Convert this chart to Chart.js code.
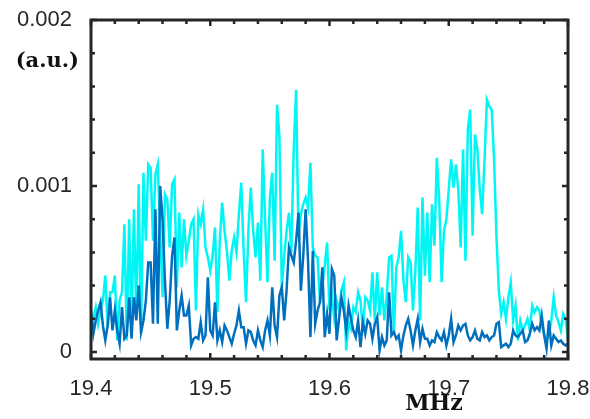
<!DOCTYPE html>
<html>
<head>
<meta charset="utf-8">
<script src="https://cdn.jsdelivr.net/npm/chart.js@4/dist/chart.umd.min.js"></script>
<style>
  html, body { margin: 0; padding: 0; background: #fff; }
  canvas { display: block; }
</style>
</head>
<body>
<canvas id="spectrum" width="590" height="419"></canvas>
<script>
// frequency sweep: 201 samples from 19.4 MHz, 2 kHz apart
const freqStart = 19.4;
const freqStep = 0.002;

// strong response (cyan)
const signalHigh = [
  0.00009,0.00020,0.00027,0.00017,0.00025,0.00031,0.00046,0.00015,0.00036,0.00036,
  0.00046,0.00007,0.00031,0.00036,0.00077,0.00007,0.00080,0.00015,0.00086,0.00020,
  0.00101,0.00011,0.00108,0.00067,0.00113,0.00111,0.00067,0.00107,0.00113,0.00073,
  0.00033,0.00095,0.00092,0.00063,0.00101,0.00104,0.00039,0.00084,0.00051,0.00080,
  0.00058,0.00067,0.00077,0.00080,0.00025,0.00083,0.00077,0.00086,0.00063,0.00057,
  0.00049,0.00058,0.00075,0.00024,0.00067,0.00090,0.00073,0.00061,0.00043,0.00061,
  0.00069,0.00060,0.00083,0.00102,0.00061,0.00030,0.00073,0.00099,0.00073,0.00057,
  0.00078,0.00043,0.00122,0.00080,0.00042,0.00093,0.00108,0.00055,0.00149,0.00130,
  0.00039,0.00058,0.00073,0.00084,0.00060,0.00122,0.00158,0.00069,0.00083,0.00089,
  0.00093,0.00087,0.00114,0.00063,0.00058,0.00057,0.00030,0.00040,0.00052,0.00066,
  0.00025,0.00034,0.00020,0.00031,0.00025,0.00037,0.00042,0.00001,0.00018,0.00014,
  0.00027,0.00024,0.00036,0.00031,0.00013,0.00033,0.00031,0.00025,0.00048,0.00019,
  0.00048,0.00022,0.00039,0.00019,0.00034,0.00057,0.00058,0.00011,0.00051,0.00057,
  0.00073,0.00043,0.00030,0.00057,0.00054,0.00025,0.00049,0.00087,0.00019,0.00093,
  0.00046,0.00084,0.00042,0.00089,0.00064,0.00117,0.00092,0.00042,0.00073,0.00080,
  0.00098,0.00116,0.00099,0.00113,0.00098,0.00063,0.00122,0.00055,0.00134,0.00146,
  0.00070,0.00131,0.00122,0.00098,0.00083,0.00116,0.00152,0.00148,0.00146,0.00116,
  0.00070,0.00037,0.00023,0.00030,0.00020,0.00033,0.00042,0.00019,0.00028,0.00007,
  0.00019,0.00013,0.00016,0.00020,0.00013,0.00028,0.00024,0.00027,0.00025,0.00016,
  0.00011,0.00007,0.00010,0.00019,0.00033,0.00022,0.00018,0.00013,0.00023,0.00020,
  0.00007
];

// weak response (blue)
const signalLow = [
  0.00025,0.00011,0.00019,0.00025,0.00030,0.00016,0.00007,0.00016,0.00033,0.00013,
  0.00025,0.00013,0.00005,0.00027,0.00008,0.00010,0.00033,0.00008,0.00033,0.00019,
  0.00040,0.00012,0.00019,0.00031,0.00054,0.00054,0.00017,0.00086,0.00017,0.00100,
  0.00080,0.00043,0.00014,0.00031,0.00058,0.00069,0.00013,0.00025,0.00034,0.00022,
  0.00022,0.00028,0.00004,0.00008,0.00009,0.00008,0.00018,0.00007,0.00010,0.00045,
  0.00013,0.00010,0.00030,0.00007,0.00013,0.00006,0.00016,0.00013,0.00009,0.00005,
  0.00011,0.00016,0.00025,0.00015,0.00015,0.00005,0.00013,0.00012,0.00007,0.00004,
  0.00013,0.00007,0.00003,0.00013,0.00019,0.00010,0.00039,0.00016,0.00009,0.00034,
  0.00039,0.00019,0.00037,0.00063,0.00058,0.00054,0.00067,0.00084,0.00037,0.00058,
  0.00086,0.00055,0.00009,0.00061,0.00017,0.00025,0.00030,0.00051,0.00009,0.00023,
  0.00011,0.00050,0.00046,0.00007,0.00020,0.00033,0.00025,0.00013,0.00028,0.00020,
  0.00013,0.00009,0.00019,0.00003,0.00018,0.00011,0.00019,0.00017,0.00008,0.00017,
  0.00021,0.00001,0.00009,0.00004,0.00007,0.00036,0.00010,0.00012,0.00008,0.00010,
  0.00001,0.00010,0.00016,0.00020,0.00013,0.00004,0.00013,0.00020,0.00006,0.00014,
  0.00008,0.00008,0.00004,0.00007,0.00006,0.00012,0.00009,0.00007,0.00012,0.00004,
  0.00010,0.00020,0.00006,0.00010,0.00016,0.00013,0.00016,0.00017,0.00010,0.00007,
  0.00009,0.00013,0.00008,0.00007,0.00012,0.00009,0.00010,0.00007,0.00009,0.00010,
  0.00017,0.00018,0.00003,0.00004,0.00005,0.00003,0.00005,0.00013,0.00010,0.00009,
  0.00011,0.00013,0.00006,0.00007,0.00011,0.00017,0.00013,0.00015,0.00013,0.00022,
  0.00010,0.00002,0.00019,0.00004,0.00010,0.00008,0.00006,0.00007,0.00005,0.00004,
  0.00005
];

const xTicks = [19.4, 19.42, 19.44, 19.46, 19.48, 19.5, 19.52, 19.54, 19.56, 19.58, 19.6,
                19.62, 19.64, 19.66, 19.68, 19.7, 19.72, 19.74, 19.76, 19.78, 19.8];
const xTickLabels = ["19.4", "19.5", "19.6", "19.7", "19.8"];
const yTicks = [0, 0.0002, 0.0004, 0.0006, 0.0008, 0.001, 0.0012, 0.0014, 0.0016, 0.0018, 0.002];
const yTickLabels = ["0", "0.001", "0.002"];
const xAxisLabel = "MHz";
const yAxisLabel = "(a.u.)";

const axisColor = "#262626";

function toPoints(values)
{
  return values.map((v, i) => ({x: freqStart + i * freqStep, y: v}));
}

function labelFor(labels, value)
{
  const hit = labels.find(l => Math.abs(Number(l) - value) < 1e-9);
  return hit === undefined ? "" : hit;
}

// edge labels may hang over the frame, so the scales ask for no extra room
function noEdgePadding(scale)
{
  scale.paddingTop = 0;
  scale.paddingBottom = 0;
  scale.paddingLeft = 0;
  scale.paddingRight = 0;
}

// box frame with inward ticks on all four sides, plus the two unit labels
const framePlugin = {
  id: "frame",
  afterDatasetsDraw(chart)
  {
    const {ctx, chartArea: a, scales} = chart;
    ctx.save();
    ctx.strokeStyle = axisColor;
    ctx.lineWidth = 2.5;
    ctx.beginPath();
    xTicks.forEach(v => {
      const px = scales.x.getPixelForValue(v);
      const len = labelFor(xTickLabels, v) ? 6 : 4;
      ctx.moveTo(px, a.bottom);
      ctx.lineTo(px, a.bottom - len);
      ctx.moveTo(px, a.top);
      ctx.lineTo(px, a.top + len);
    });
    yTicks.forEach(v => {
      const py = scales.y.getPixelForValue(v);
      const len = labelFor(yTickLabels, v) ? 6 : 4;
      ctx.moveTo(a.left, py);
      ctx.lineTo(a.left + len, py);
      ctx.moveTo(a.right, py);
      ctx.lineTo(a.right - len, py);
    });
    ctx.stroke();

    ctx.lineWidth = 3;
    ctx.strokeRect(a.left, a.top, a.right - a.left, a.bottom - a.top);

    ctx.fillStyle = "#111";
    ctx.font = "bold 21px 'DejaVu Serif'";
    ctx.textAlign = "right";
    ctx.textBaseline = "middle";
    ctx.fillText(yAxisLabel, a.left - 12, a.top + 42);

    ctx.font = "bold 22px 'DejaVu Serif'";
    ctx.textAlign = "center";
    ctx.textBaseline = "alphabetic";
    ctx.fillText(xAxisLabel, 434, chart.height - 9);
    ctx.restore();
  }
};

new Chart(document.getElementById("spectrum"), {
  type: "line",
  data: {
    datasets: [
      {
        label: "weak",
        data: toPoints(signalLow),
        borderColor: "#0070BE",
        borderWidth: 2.5,
        pointRadius: 0,
        tension: 0,
      },
      {
        label: "strong",
        data: toPoints(signalHigh),
        borderColor: "#00F5F5",
        borderWidth: 2.5,
        pointRadius: 0,
        tension: 0,
      },
    ],
  },
  options: {
    responsive: false,
    animation: false,
    layout: {padding: {top: 20, right: 22, left: 0, bottom: 0}},
    plugins: {
      legend: {display: false},
      tooltip: {enabled: false},
    },
    scales: {
      x: {
        type: "linear",
        min: 19.4,
        max: 19.8,
        grid: {display: false},
        border: {display: false},
        afterBuildTicks: scale => { scale.ticks = xTicks.map(v => ({value: v})); },
        afterFit: scale => { scale.height = 60; noEdgePadding(scale); },
        ticks: {
          autoSkip: false,
          maxRotation: 0,
          padding: 9,
          color: axisColor,
          font: {family: "'Liberation Sans'", size: 22},
          callback: value => labelFor(xTickLabels, value),
        },
      },
      y: {
        min: -0.000042,
        max: 0.002,
        grid: {display: false},
        border: {display: false},
        afterBuildTicks: scale => { scale.ticks = yTicks.map(v => ({value: v})); },
        afterFit: scale => { scale.width = 91; noEdgePadding(scale); },
        ticks: {
          autoSkip: false,
          padding: 11,
          color: axisColor,
          font: {family: "'Liberation Sans'", size: 22},
          callback: value => labelFor(yTickLabels, value),
        },
      },
    },
  },
  plugins: [framePlugin],
});
</script>
</body>
</html>
